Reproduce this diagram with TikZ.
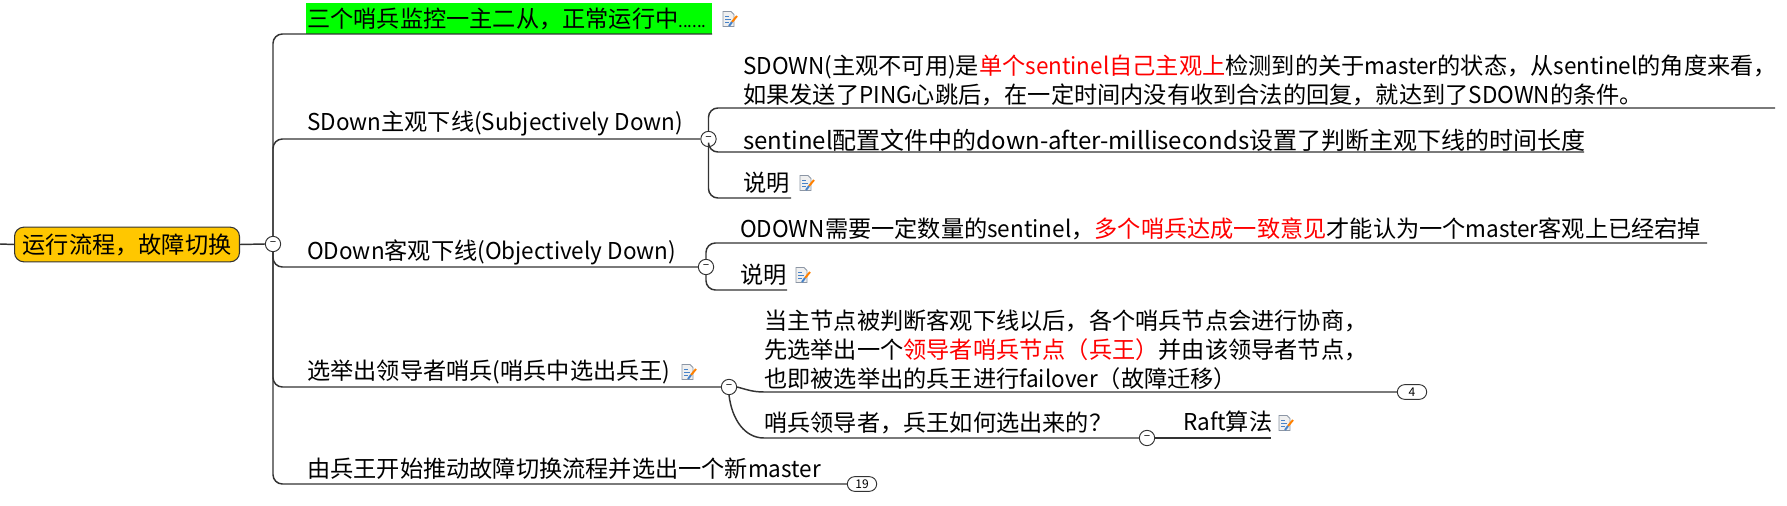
\documentclass[tikz,border=0pt]{standalone}
\usepackage{fontspec}
\setmainfont{Noto Sans CJK SC}
\newfontfamily\latfont{Noto Sans CJK SC}[FakeStretch=0.97]
\usepackage{xcolor}
\usetikzlibrary{positioning}
\definecolor{rootfill}{RGB}{255,199,0}
\definecolor{notegray}{RGB}{140,150,165}
\definecolor{noteblue}{RGB}{70,130,200}
\tikzset{
    branch/.style={draw=black!80, line width=1.1pt},
    topic/.style={anchor=west, inner sep=0pt, font=\fontsize{17.4pt}{21.7pt}\selectfont, align=left},
    fold/.style={circle, draw=black!80, fill=white, line width=0.7pt, minimum size=11.5pt, inner sep=0pt, font=\fontsize{9pt}{9pt}\selectfont},
    pill/.style={rounded corners=5.5pt, draw=black!80, fill=white, line width=0.7pt, minimum height=11pt, minimum width=22pt, inner sep=0pt, font=\fontsize{9pt}{9pt}\selectfont},
    pics/noteicon/.style={code={
        \draw[notegray, fill=black!6, line width=0.6pt] (-6,-7.5) -- (2,-7.5) -- (5,-4.5) -- (5,7.5) -- (-6,7.5) -- cycle;
        \draw[noteblue, line width=0.6pt] (-4,-3) -- (0,-3) (-4,0) -- (2,0) (-4,3) -- (0,3);
        \draw[orange, line width=1.5pt] (8,-3) -- (3,3);
        \draw[noteblue, line width=1.5pt] (3,3) -- (0,7);
    }}
}
\newcommand{\hot}[1]{\textcolor{red}{#1}}
\newcommand{\lat}[1]{{\latfont #1}}
\begin{document}
\begin{tikzpicture}[x=0.75pt, y=-0.75pt]
    \useasboundingbox (0,0) rectangle (1787,506);

    % root
    \coordinate (leftend) at (0,244);
    \node[rounded corners=7pt, draw=black!80, fill=rootfill, line width=0.8pt, minimum width=168.7pt, minimum height=26pt, inner sep=0pt, font=\fontsize{17.4pt}{21pt}\selectfont] (root) at (127,244.5) {运行流程，故障切换};
    \node[fold] (foldroot) at (273,244) {--};
    \draw[branch] (leftend) -- (root.west);
    \draw[branch] (root.east) -- (foldroot.west);

    % first level
    \fill[green] (306,3.5) rectangle (712,34);
    \node[topic] (running) at (307,18.5) {三个哨兵监控一主二从，正常运行中{\fontsize{13pt}{13pt}\selectfont\lat{......}}};
    \coordinate (runningend) at (712,34);
    \draw[branch, rounded corners=7pt] (foldroot.north) |- (runningend);
    \pic at (729,19) {noteicon};

    \node[topic] (sdown) at (307,124) {\lat{SDown}主观下线\lat{(Subjectively Down)}};
    \node[fold] (foldsdown) at (708.5,139) {--};
    \draw[branch, rounded corners=7pt] (foldroot.north) |- (foldsdown.west);

    \node[topic] (odown) at (307,252) {\lat{ODown}客观下线\lat{(Objectively Down)}};
    \node[fold] (foldodown) at (706,267) {--};
    \draw[branch, rounded corners=7pt] (foldroot.south) |- (foldodown.west);

    \node[topic] (leader) at (307,372) {选举出领导者哨兵\lat{(}哨兵中选出兵王\lat{)}};
    \node[fold] (foldleader) at (729,387) {--};
    \draw[branch, rounded corners=7pt] (foldroot.south) |- (foldleader.west);
    \pic at (688,372) {noteicon};

    \node[topic] (newmaster) at (307,469) {由兵王开始推动故障切换流程并选出一个新\lat{master}};
    \node[pill] (count19) at (862,484) {19};
    \draw[branch, rounded corners=7pt] (foldroot.south) |- (count19.west);

    % under SDown
    \node[topic] (sdowntext) at (743,80.5) {\lat{SDOWN(}主观不可用\lat{)}是\hot{单个\lat{sentinel}自己主观上}检测到的关于\lat{master}的状态，从\lat{sentinel}的角度来看，\\如果发送了\lat{PING}心跳后，在一定时间内没有收到合法的回复，就达到了\lat{SDOWN}的条件。};
    \coordinate (sdowntextend) at (1775,108);
    \draw[branch, rounded corners=7pt] (foldsdown.north) |- (sdowntextend);

    \node[topic, font=\fontsize{18pt}{21.7pt}\selectfont] (config) at (743,140) {sentinel配置文件中的down-after-milliseconds设置了判断主观下线的时间长度};
    \coordinate (configend) at (1584,152);
    \draw[branch, rounded corners=7pt] (foldsdown.south) |- (configend);

    \node[topic] (sdownnote) at (743,183) {说明};
    \coordinate (sdownnoteend) at (791,198);
    \draw[branch, rounded corners=7pt] (foldsdown.south) |- (sdownnoteend);
    \pic at (806,183) {noteicon};

    % under ODown
    \node[topic] (odowntext) at (740,229) {\lat{ODOWN}需要一定数量的\lat{sentinel}，\hot{多个哨兵达成一致意见}才能认为一个\lat{master}客观上已经宕掉};
    \coordinate (odowntextend) at (1707,243);
    \draw[branch, rounded corners=7pt] (foldodown.north) |- (odowntextend);

    \node[topic] (odownnote) at (740,275) {说明};
    \coordinate (odownnoteend) at (787,290);
    \draw[branch, rounded corners=7pt] (foldodown.south) |- (odownnoteend);
    \pic at (802,275) {noteicon};

    % under leader
    \node[topic] (leadertext) at (764,349.5) {当主节点被判断客观下线以后，各个哨兵节点会进行协商，\\先选举出一个\hot{领导者哨兵节点（兵王）}并由该领导者节点，\\也即被选举出的兵王进行\lat{failover}（故障迁移）};
    \node[pill] (count4) at (1412,392) {4};
    \coordinate (leadertextstart) at (764,392);
    \draw[branch] (foldleader.east) .. controls (745,389) and (752,392) .. (leadertextstart) -- (count4.west);

    \node[topic] (howpick) at (764,423) {哨兵领导者，兵王如何选出来的？};
    \node[fold] (foldhow) at (1147,438) {--};
    \coordinate (howpickstart) at (764,438);
    \draw[branch] (foldleader.south) .. controls (732,420) and (745,438) .. (howpickstart) -- (foldhow.west);

    \node[topic] (raft) at (1183,422) {\lat{Raft}算法};
    \coordinate (raftend) at (1271,438);
    \draw[branch] (foldhow.east) -- (raftend);
    \pic at (1285,423) {noteicon};

\end{tikzpicture}
\end{document}
